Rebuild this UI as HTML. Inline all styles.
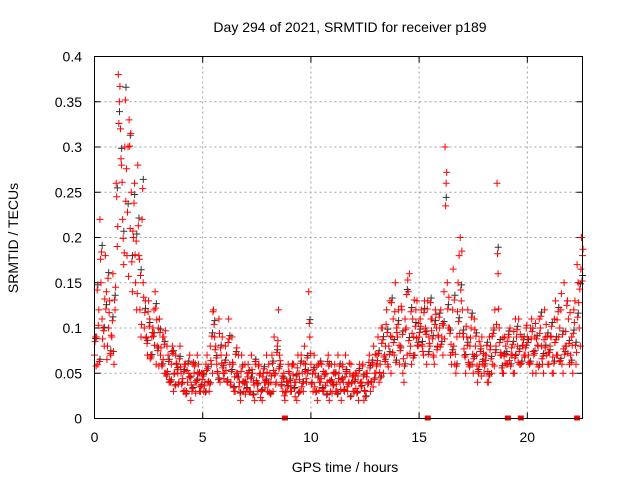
<!DOCTYPE html>
<html><head><meta charset="utf-8"><style>
html,body{margin:0;padding:0;background:#fff;}
svg{display:block;font-family:"Liberation Sans",sans-serif;}
</style></head><body>
<svg id="chart" width="640" height="480" viewBox="0 0 640 480">
<text x="350" y="32" text-anchor="middle" font-size="14">Day 294 of 2021, SRMTID for receiver p189</text>
<text x="345" y="472" text-anchor="middle" font-size="14">GPS time / hours</text>
<text transform="translate(18,238) rotate(-90)" text-anchor="middle" font-size="14">SRMTID / TECUs</text>
<g id="grid"></g><g id="ticks"></g><g id="marks"></g>
<rect x="94.5" y="56.5" width="488" height="362" fill="none" stroke="#000"/>
</svg>
<script>
const xTicks=[0,5,10,15,20];
const yTicks=[0,0.05,0.1,0.15,0.2,0.25,0.3,0.35,0.4];
const yTickLabels=["0","0.05","0.1","0.15","0.2","0.25","0.3","0.35","0.4"];
const startHourA=0, startHourB=0.05, startHourC=0.025, startHourD=0.075, stepHour=0.1;
const tecA=[.07,.09,.12,.15,.10,.18,.08,.13,.09,.06,
.26,.38,.32,.22,.30,.18,.33,.25,.20,.15,
.28,.12,.22,.10,.09,.13,.07,.10,.14,.08,
.11,.06,.09,.05,.07,.04,.08,.05,.06,.04,
.05,.03,.06,.04,.07,.03,.05,.04,.06,.03,
.05,.04,.07,.03,.06,.12,.08,.05,.04,.09,
.05,.07,.11,.04,.06,.03,.05,.04,.07,.03,
.04,.06,.03,.05,.02,.04,.06,.03,.05,.04,
.03,.05,.07,.09,.04,.12,.06,.03,.02,.04,
.05,.03,.06,.04,.07,.03,.05,.08,.04,.14,
.06,.03,.05,.02,.04,.06,.03,.05,.07,.03,
.04,.06,.03,.05,.02,.04,.07,.03,.05,.04,
.03,.05,.02,.04,.06,.03,.05,.07,.04,.08,
.05,.09,.06,.10,.07,.12,.08,.05,.11,.15,
.09,.06,.12,.04,.10,.14,.08,.11,.07,.13,
.09,.12,.07,.10,.13,.08,.11,.06,.10,.09,
.12,.07,.30,.15,.10,.06,.08,.05,.15,.20,
.12,.07,.09,.06,.10,.05,.08,.04,.06,.09,
.05,.07,.04,.08,.06,.12,.26,.10,.07,.05,
.08,.06,.10,.07,.05,.09,.11,.06,.08,.07,
.09,.06,.11,.07,.05,.08,.10,.06,.12,.07,
.06,.09,.05,.13,.07,.10,.06,.15,.08,.11,
.07,.05,.13,.17,.10,.20];
const tecB=[.09,.06,.22,.11,.08,.14,.10,.07,.16,.12,
.19,.35,.28,.17,.24,.30,.21,.14,.26,.12,
.18,.09,.15,.13,.07,.11,.09,.12,.06,.10,
.07,.09,.05,.08,.04,.06,.03,.07,.05,.08,
.04,.06,.03,.05,.02,.06,.04,.07,.03,.05,
.03,.06,.04,.08,.05,.09,.06,.11,.07,.05,
.08,.04,.06,.09,.03,.05,.07,.02,.04,.06,
.05,.03,.07,.04,.06,.03,.05,.02,.04,.07,
.06,.04,.03,.05,.08,.07,.04,.05,.03,.06,
.03,.06,.04,.02,.05,.07,.03,.06,.05,.09,
.04,.07,.03,.06,.04,.03,.05,.04,.02,.06,
.05,.03,.07,.04,.06,.03,.05,.04,.06,.03,
.05,.03,.06,.04,.02,.05,.04,.03,.06,.05,
.07,.04,.10,.05,.08,.06,.13,.09,.07,.10,
.12,.08,.05,.11,.07,.16,.06,.09,.12,.08,
.11,.08,.13,.06,.09,.11,.07,.12,.08,.10,
.09,.14,.26,.10,.07,.12,.06,.09,.18,.13,
.09,.05,.12,.08,.06,.11,.07,.05,.08,.06,
.07,.04,.09,.05,.10,.08,.16,.07,.05,.09,
.06,.09,.07,.05,.11,.08,.06,.09,.07,.10,
.07,.10,.05,.09,.06,.11,.08,.05,.09,.06,
.08,.05,.11,.07,.09,.12,.05,.08,.13,.06,
.09,.12,.06,.15,.08,.18];
const tecC=[.085,.142,.063,.184,.097,.121,.155,.072,.108,.131,
.245,.326,.287,.199,.352,.228,.301,.173,.238,.196,
.213,.158,.254,.117,.083,.102,.068,.091,.122,.075,
.095,.058,.082,.047,.063,.041,.072,.036,.054,.066,
.038,.052,.027,.061,.045,.033,.058,.042,.049,.036,
.047,.029,.055,.038,.091,.104,.067,.043,.078,.056,
.062,.041,.088,.052,.034,.071,.045,.028,.057,.039,
.033,.051,.044,.026,.063,.037,.048,.031,.055,.042,
.038,.027,.061,.048,.073,.055,.036,.044,.029,.035,
.042,.058,.033,.047,.028,.061,.039,.052,.067,.105,
.038,.054,.029,.045,.061,.033,.047,.026,.058,.041,
.036,.049,.027,.058,.043,.031,.052,.038,.024,.046,
.041,.028,.053,.035,.047,.024,.038,.056,.062,.043,
.058,.072,.045,.087,.063,.095,.071,.128,.084,.062,
.104,.075,.093,.058,.137,.086,.118,.067,.102,.081,
.095,.082,.117,.093,.071,.128,.088,.104,.076,.112,
.082,.103,.235,.121,.094,.073,.131,.058,.107,.142,
.094,.068,.081,.057,.112,.066,.091,.052,.074,.063,
.058,.081,.047,.066,.094,.073,.182,.084,.056,.069,
.071,.093,.058,.082,.067,.098,.074,.061,.087,.078,
.084,.061,.096,.072,.088,.057,.113,.069,.078,.091,
.073,.102,.061,.087,.118,.064,.093,.071,.125,.083,
.062,.094,.081,.112,.143,.152];
const tecD=[.058,.103,.176,.088,.132,.065,.117,.092,.074,.145,
.212,.367,.261,.183,.276,.157,.315,.207,.181,.138,
.176,.104,.134,.089,.118,.066,.095,.081,.109,.058,
.078,.065,.097,.052,.043,.074,.049,.061,.038,.057,
.044,.031,.053,.046,.037,.062,.028,.051,.035,.043,
.036,.053,.041,.064,.118,.076,.052,.094,.061,.044,
.053,.084,.037,.062,.046,.078,.035,.052,.041,.027,
.046,.029,.054,.037,.042,.058,.023,.046,.034,.051,
.029,.047,.053,.038,.086,.064,.047,.025,.041,.052,
.036,.048,.024,.056,.043,.035,.061,.044,.053,.072,
.049,.035,.058,.031,.044,.052,.036,.063,.042,.028,
.051,.038,.044,.032,.057,.046,.035,.061,.039,.048,
.033,.047,.039,.058,.031,.046,.062,.041,.035,.071,
.064,.051,.083,.068,.104,.057,.091,.073,.118,.095,
.081,.124,.066,.098,.153,.072,.094,.131,.089,.105,
.102,.074,.096,.121,.083,.097,.068,.115,.092,.079,
.105,.088,.272,.134,.082,.165,.071,.118,.094,.185,
.077,.102,.062,.089,.071,.098,.058,.085,.047,.072,
.064,.052,.076,.091,.058,.104,.121,.073,.089,.061,
.085,.064,.078,.096,.071,.062,.093,.081,.068,.103,
.062,.088,.074,.105,.081,.094,.066,.087,.104,.073,
.091,.068,.084,.109,.063,.138,.077,.096,.072,.117,
.081,.106,.073,.128,.165,.187];
const flagHours=[8.8,15.4,19.1,19.7,22.3];
const NS="http://www.w3.org/2000/svg";
const X0=94.5,X1=582.5,Y0=418.5,Y1=56.5,XMAX=22.55,YMAX=0.4;
function xs(h){return X0+(X1-X0)*h/XMAX;}
function ys(v){return Y0-(Y0-Y1)*v/YMAX;}
function mk(tag,attrs,parent){const e=document.createElementNS(NS,tag);for(const k in attrs)e.setAttribute(k,attrs[k]);parent.appendChild(e);return e;}
const grid=document.getElementById('grid'),ticks=document.getElementById('ticks'),marks=document.getElementById('marks');
xTicks.forEach(t=>{const x=xs(t);
 if(t>0){const g=mk('line',{x1:x,x2:x,y1:Y0,y2:Y1,stroke:'#a0a0a0','stroke-dasharray':'2,3'},grid);
 
 }
 const tk=mk('path',{d:`M${x} ${Y0}v-6M${x} ${Y1}v6`,stroke:'#000'},ticks);
 
 
 const l=mk('text',{x:x,y:442,'text-anchor':'middle','font-size':'14'},ticks);l.textContent=String(t);
 
 });
yTicks.forEach((t,i)=>{const y=ys(t);
 if(t>0&&t<YMAX){const g=mk('line',{x1:X0,x2:X1,y1:y,y2:y,stroke:'#a0a0a0','stroke-dasharray':'2,3'},grid);
 
 }
 const tk=mk('path',{d:`M${X0} ${y}h6M${X1} ${y}h-6`,stroke:'#000'},ticks);
 
 
 const l=mk('text',{x:82,y:y+5,'text-anchor':'end','font-size':'14'},ticks);l.textContent=yTickLabels[i];
 
 });
function plus(h,v,color,name){const x=xs(h),y=ys(v);
 const p=mk('path',{d:`M${x-3.5} ${y}h7M${x} ${y-3.5}v7`,stroke:color,'stroke-width':'1'},marks);
 
 }
tecC.forEach((v,i)=>plus(startHourC+i*stepHour+0.03,v*1.04,'#333','point-black'));
tecA.forEach((v,i)=>plus(startHourA+i*stepHour,v,'#ff0000','point-red'));
tecB.forEach((v,i)=>plus(startHourB+i*stepHour,v,'#ff0000','point-red'));
tecC.forEach((v,i)=>plus(startHourC+i*stepHour,v,'#ff0000','point-red'));
tecD.forEach((v,i)=>plus(startHourD+i*stepHour,v,'#ff0000','point-red'));
flagHours.forEach(h=>{const r=mk('rect',{x:xs(h)-3,y:Y0-3,width:6,height:5,fill:'#ff0000'},marks);
 
 });
</script>
</body></html>
